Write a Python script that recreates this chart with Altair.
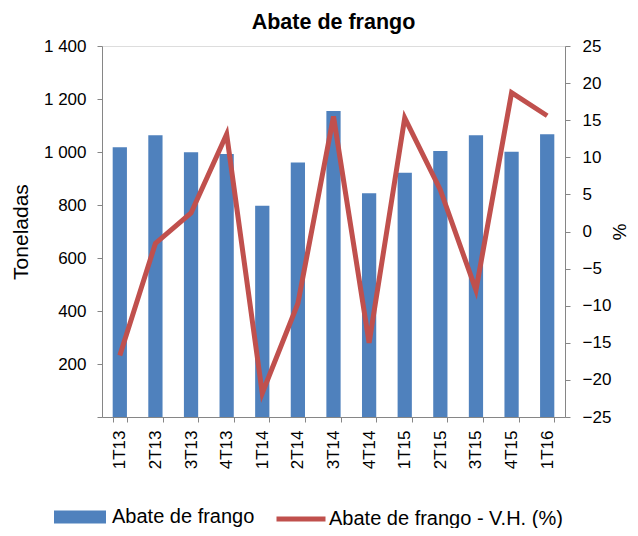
import altair as alt
import pandas as pd

trimestres = ["1T13", "2T13", "3T13", "4T13", "1T14", "2T14", "3T14",
              "4T14", "1T15", "2T15", "3T15", "4T15", "1T16"]
toneladas = [1018, 1063, 999, 992, 797, 960, 1155, 844, 922, 1004, 1063, 1001, 1067]
vh = [-16.7, -1.6, 2.5, 13.1, -21.8, -9.7, 15.5, -15.0, 15.3, 5.6, -7.9, 18.7, 15.6]

serie_bar = "Abate de frango"
serie_line = "Abate de frango - V.H. (%)"

df = pd.DataFrame({
    "trimestre": trimestres,
    "toneladas": toneladas,
    "vh": vh,
    "s1": [serie_bar] * len(trimestres),
    "s2": [serie_line] * len(trimestres),
})

FONT = "Liberation Sans"
AXC = "#868686"

x = alt.X(
    "trimestre:N", sort=trimestres, title=None,
    scale=alt.Scale(paddingInner=0.6, paddingOuter=0.3),
    axis=alt.Axis(labelAngle=270, labelFontSize=17, labelColor="black",
                  labelFont=FONT, domainColor=AXC, tickColor=AXC,
                  tickSize=5, tickBand="extent", labelPadding=8,
                  grid=False),
)

bars = alt.Chart(df).mark_bar(color="#4F81BD").encode(
    x=x,
    y=alt.Y("toneladas:Q", title="Toneladas",
            scale=alt.Scale(domain=[0, 1400], nice=False),
            axis=alt.Axis(values=list(range(0, 1401, 200)),
                          labelExpr="datum.value == 0 ? '' : replace(format(datum.value, ','), ',', ' ')",
                          labelFontSize=17, labelColor="black", labelFont=FONT,
                          titleFontSize=21, titleFont=FONT, titleFontWeight="normal",
                          titleColor="black", titlePadding=12,
                          domainColor=AXC, tickColor=AXC, tickSize=5,
                          labelPadding=11, grid=False)),
    color=alt.Color("s1:N", scale=alt.Scale(domain=[serie_bar], range=["#4F81BD"]),
                    legend=alt.Legend(title=None, orient="none", legendX=-48, legendY=445,
                                      symbolType="M-1,-0.25L1,-0.25L1,0.25L-1,0.25Z",
                                      symbolSize=2704, symbolStrokeWidth=0,
                                      labelFontSize=20, labelFont=FONT, labelColor="black",
                                      labelOffset=6, labelLimit=0)),
)

line = alt.Chart(df).mark_line(strokeWidth=5, color="#C0504D").encode(
    x=x,
    y=alt.Y("vh:Q", title="%",
            scale=alt.Scale(domain=[-25, 25], nice=False),
            axis=alt.Axis(orient="right", values=list(range(-25, 26, 5)),
                          labelFontSize=17, labelColor="black", labelFont=FONT,
                          titleFontSize=19, titleFont=FONT, titleFontWeight="normal",
                          titleColor="black", titlePadding=-2,
                          domainColor=AXC, tickColor=AXC, tickSize=5,
                          labelPadding=12, grid=False)),
    stroke=alt.Stroke("s2:N", scale=alt.Scale(domain=[serie_line], range=["#C0504D"]),
                      legend=alt.Legend(title=None, orient="none", legendX=172, legendY=446,
                                        symbolType="M-1,0L1,0", symbolSize=2401,
                                        symbolStrokeWidth=5,
                                        labelFontSize=20, labelFont=FONT, labelColor="black",
                                        labelOffset=1, labelLimit=0)),
)

chart = alt.layer(bars, line).resolve_scale(y="independent").properties(
    width=463,
    height=371,
    title=alt.TitleParams("Abate de frango", fontSize=21.5, font=FONT,
                          fontWeight="bold", color="black", anchor="middle",
                          frame="group", offset=4, dx=0),
    autosize=alt.AutoSizeParams(type="none"),
    padding={"left": 94, "top": 38, "right": 65, "bottom": 111},
).configure_view(stroke=None).configure(background="white")

chart.save("out.html", embed_options={"renderer": "svg", "actions": False})
